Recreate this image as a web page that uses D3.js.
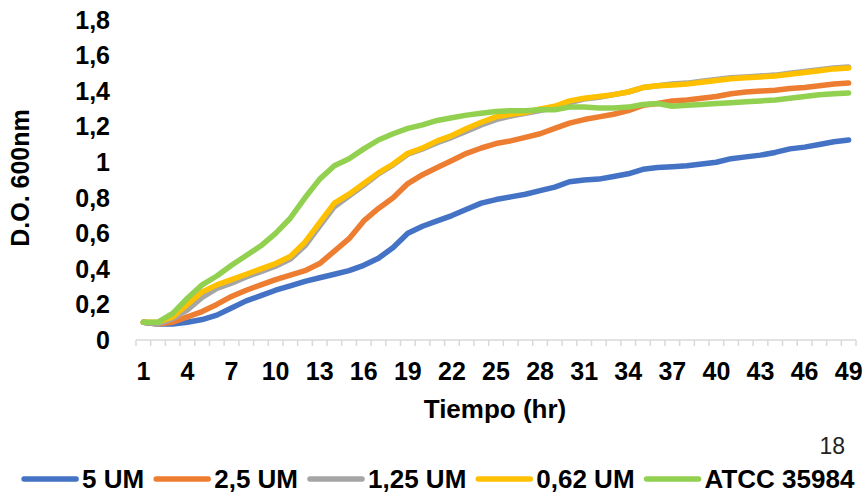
<!DOCTYPE html>
<html>
<head>
<meta charset="utf-8">
<script src="https://cdn.jsdelivr.net/npm/d3@7"></script>
<style>
  body { margin: 0; background: #fff; }
  svg text { font-family: "Liberation Sans", Arial, sans-serif; }
</style>
</head>
<body>
<svg id="chart" width="866" height="496"></svg>
<script>
// hours 1..49
var hours = d3.range(1, 50);
var xTickLabels = [1, 4, 7, 10, 13, 16, 19, 22, 25, 28, 31, 34, 37, 40, 43, 46, 49];
var yTicks = [0, 0.2, 0.4, 0.6, 0.8, 1, 1.2, 1.4, 1.6, 1.8];

var seriesNames = ["5 UM", "2,5 UM", "1,25 UM", "0,62 UM", "ATCC 35984"];
var seriesColors = ["#4472C4", "#ED7D31", "#A5A5A5", "#FFC000", "#92D050"];

var um5 = [0.10, 0.09, 0.09, 0.10, 0.115, 0.14, 0.18, 0.22, 0.25, 0.28,
  0.305, 0.33, 0.35, 0.37, 0.39, 0.42, 0.46, 0.52, 0.60, 0.64,
  0.67, 0.70, 0.735, 0.77, 0.79, 0.805, 0.82, 0.84, 0.86, 0.89,
  0.90, 0.905, 0.92, 0.935, 0.96, 0.97, 0.975, 0.98, 0.99, 1.0,
  1.02, 1.03, 1.04, 1.055, 1.075, 1.085, 1.10, 1.115, 1.125];
var um25 = [0.10, 0.09, 0.10, 0.13, 0.16, 0.20, 0.245, 0.28, 0.31, 0.34,
  0.365, 0.39, 0.43, 0.50, 0.57, 0.67, 0.74, 0.80, 0.88, 0.93,
  0.97, 1.01, 1.05, 1.08, 1.105, 1.12, 1.14, 1.16, 1.19, 1.22,
  1.24, 1.255, 1.27, 1.29, 1.32, 1.33, 1.345, 1.35, 1.36, 1.37,
  1.385, 1.395, 1.40, 1.405, 1.415, 1.42, 1.43, 1.44, 1.445];
var um125 = [0.10, 0.09, 0.12, 0.17, 0.24, 0.29, 0.32, 0.355, 0.385, 0.415,
  0.455, 0.53, 0.64, 0.75, 0.81, 0.87, 0.935, 0.985, 1.045, 1.075,
  1.11, 1.14, 1.175, 1.21, 1.24, 1.26, 1.275, 1.29, 1.31, 1.335,
  1.355, 1.365, 1.38, 1.395, 1.42, 1.43, 1.44, 1.445, 1.455, 1.465,
  1.475, 1.48, 1.485, 1.49, 1.50, 1.51, 1.52, 1.53, 1.535];
var um062 = [0.10, 0.10, 0.13, 0.20, 0.27, 0.31, 0.34, 0.37, 0.40, 0.43,
  0.47, 0.55, 0.66, 0.77, 0.82, 0.88, 0.94, 0.99, 1.05, 1.08,
  1.12, 1.15, 1.19, 1.225, 1.255, 1.27, 1.28, 1.30, 1.315, 1.345,
  1.36, 1.37, 1.38, 1.395, 1.42, 1.43, 1.435, 1.44, 1.45, 1.46,
  1.47, 1.475, 1.48, 1.485, 1.495, 1.505, 1.515, 1.525, 1.53];
var atcc = [0.10, 0.10, 0.15, 0.235, 0.31, 0.36, 0.42, 0.475, 0.53, 0.60,
  0.685, 0.80, 0.905, 0.98, 1.02, 1.075, 1.125, 1.16, 1.19, 1.21,
  1.235, 1.25, 1.265, 1.275, 1.285, 1.29, 1.29, 1.295, 1.295, 1.31,
  1.31, 1.305, 1.305, 1.31, 1.325, 1.33, 1.315, 1.32, 1.325, 1.33,
  1.335, 1.34, 1.345, 1.35, 1.36, 1.37, 1.38, 1.385, 1.39];

var allSeries = [um5, um25, um125, um062, atcc];

var svg = d3.select("#chart");
var fontSize = 25;

var x = d3.scalePoint().domain(hours).range([136, 856]).padding(0.5);
var y = d3.scaleLinear().domain([0, 1.8]).range([340, 20]);
var step = x.step();

// y tick labels (no axis line)
svg.append("g").selectAll("text").data(yTicks).join("text")
  .attr("x", 110)
  .attr("y", function(d){ return y(d); })
  .attr("dy", "0.35em")
  .attr("text-anchor", "end")
  .attr("font-size", fontSize).attr("font-weight", "bold").attr("fill", "#000")
  .text(function(d){ return d3.format(".1~f")(d).replace(".", ","); });

// x axis line and boundary ticks
var gx = svg.append("g");
gx.append("line")
  .attr("x1", x(1) - step / 2).attr("x2", x(49) + step / 2)
  .attr("y1", y(0)).attr("y2", y(0))
  .attr("stroke", "#d9d9d9").attr("stroke-width", 1.5);
gx.selectAll(".tk").data(hours.concat([50])).join("line")
  .attr("class", "tk")
  .attr("x1", function(d){ return d === 50 ? x(49) + step / 2 : x(d) - step / 2; })
  .attr("x2", function(d){ return d === 50 ? x(49) + step / 2 : x(d) - step / 2; })
  .attr("y1", y(0)).attr("y2", y(0) + 6)
  .attr("stroke", "#d9d9d9").attr("stroke-width", 1.5);

gx.selectAll(".lbl").data(xTickLabels).join("text")
  .attr("class", "lbl")
  .attr("x", function(d){ return x(d); })
  .attr("y", 380)
  .attr("text-anchor", "middle")
  .attr("font-size", fontSize).attr("font-weight", "bold").attr("fill", "#000")
  .text(function(d){ return d; });

// axis titles
svg.append("text")
  .attr("x", 495).attr("y", 418)
  .attr("text-anchor", "middle")
  .attr("font-size", 26).attr("font-weight", "bold")
  .text("Tiempo (hr)");

svg.append("text")
  .attr("transform", "translate(29,178) rotate(-90)")
  .attr("text-anchor", "middle")
  .attr("font-size", fontSize).attr("font-weight", "bold")
  .text("D.O. 600nm");

// lines
var line = d3.line()
  .x(function(d, i){ return x(hours[i]); })
  .y(function(d){ return y(d); });

svg.append("g").selectAll("path").data(allSeries).join("path")
  .attr("d", line)
  .attr("fill", "none")
  .attr("stroke", function(d, i){ return seriesColors[i]; })
  .attr("stroke-width", 5.5)
  .attr("stroke-linejoin", "round")
  .attr("stroke-linecap", "round");

// page number
svg.append("text")
  .attr("x", 845).attr("y", 454)
  .attr("text-anchor", "end")
  .attr("font-size", 23).attr("fill", "#222")
  .text("18");

// legend
var lg = svg.append("g");
var lineLen = 54, gapA = 6, gapB = 12, legY = 479;
var items = lg.selectAll("g").data(seriesNames).join("g");
items.append("line")
  .attr("x1", 2).attr("x2", lineLen)
  .attr("y1", 0).attr("y2", 0)
  .attr("stroke", function(d, i){ return seriesColors[i]; })
  .attr("stroke-width", 5.5)
  .attr("stroke-linecap", "round");
items.append("text")
  .attr("x", lineLen + gapA)
  .attr("dy", "0.35em")
  .attr("font-size", 26).attr("font-weight", "bold").attr("fill", "#000")
  .text(function(d){ return d; });

var widths = [];
items.each(function(){ widths.push(this.getBBox().width); });
var total = d3.sum(widths) + gapB * (widths.length - 1);
var cx = 26 + (849 - 26 - total) / 2;
items.attr("transform", function(d, i){
  var off = cx;
  for (var k = 0; k < i; k++) off += widths[k] + gapB;
  return "translate(" + off + "," + legY + ")";
});
</script>
</body>
</html>
